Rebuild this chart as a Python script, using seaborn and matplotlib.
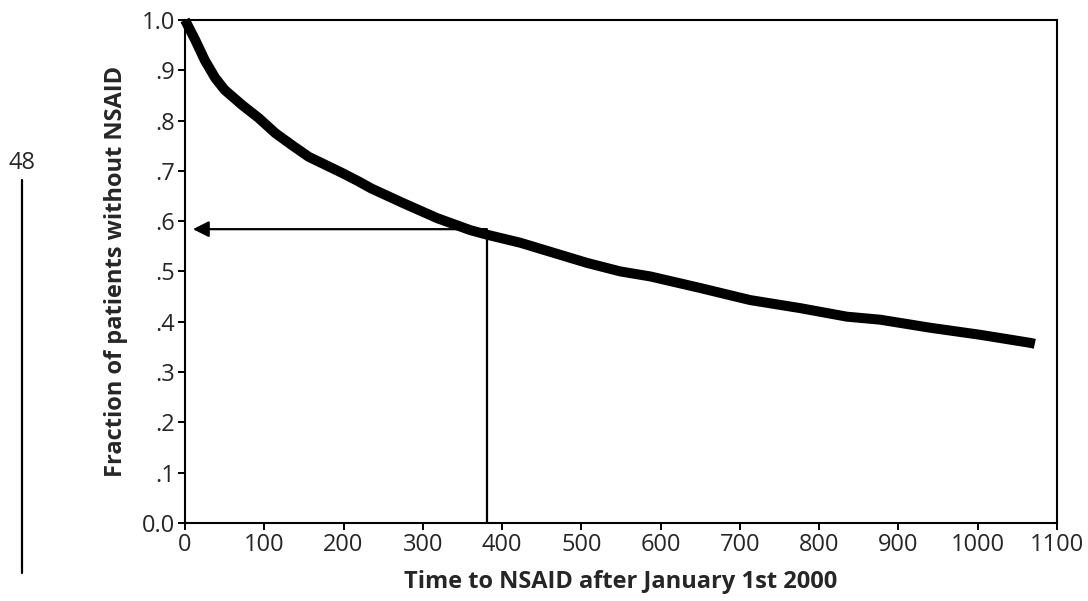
import pandas as pd
import seaborn as sns
import matplotlib.pyplot as plt
from matplotlib.lines import Line2D

# values
time_days = [0, 13, 25, 38, 50, 72, 93, 114, 135, 156, 177, 198, 219, 235,
             275, 318, 360, 381, 423, 465, 507, 549, 587, 650, 713, 776,
             835, 877, 940, 1003, 1066, 1072]
fraction_without = [1.0, 0.960, 0.920, 0.885, 0.861, 0.831, 0.805, 0.775,
                    0.751, 0.728, 0.712, 0.696, 0.679, 0.665, 0.636, 0.606,
                    0.582, 0.573, 0.557, 0.537, 0.517, 0.500, 0.490, 0.467,
                    0.443, 0.427, 0.410, 0.404, 0.388, 0.374, 0.358, 0.356]

marker_time = 381
marker_fraction = 0.584
marker_curve = 0.573

x_ticks = list(range(0, 1101, 100))
y_ticks = [0.0, 0.1, 0.2, 0.3, 0.4, 0.5, 0.6, 0.7, 0.8, 0.9, 1.0]
y_tick_labels = ["0.0", ".1", ".2", ".3", ".4", ".5", ".6", ".7", ".8", ".9", "1.0"]

df = pd.DataFrame({"time": time_days, "fraction": fraction_without})

sns.set_theme(style="ticks")
plt.rcParams["font.family"] = ["Open Sans", "DejaVu Sans"]

fig = plt.figure(figsize=(10.88, 6.01), dpi=100)
ax = fig.add_axes([0.170, 0.130, 0.8015, 0.8368])

# guide lines under the curve
ax.plot([marker_time, marker_time], [0, marker_curve], color="black", lw=1.6, zorder=1)
ax.annotate("", xy=(10, marker_fraction), xytext=(marker_time, marker_fraction),
            arrowprops=dict(arrowstyle="-|>", color="black", lw=1.6,
                            mutation_scale=24, shrinkA=0, shrinkB=0),
            zorder=1)

sns.lineplot(data=df, x="time", y="fraction", ax=ax, color="black",
             linewidth=7.2, solid_capstyle="butt", zorder=3, clip_on=False)

ax.set_xlim(0, 1100)
ax.set_ylim(0, 1.0)
ax.set_xticks(x_ticks)
ax.set_xticklabels([str(t) for t in x_ticks], fontsize=17)
ax.set_yticks(y_ticks)
ax.set_yticklabels(y_tick_labels, fontsize=17)
ax.tick_params(direction="out", length=5, width=1.4, color="black", pad=2)

for side in ["top", "right", "bottom", "left"]:
    ax.spines[side].set_visible(True)
    ax.spines[side].set_color("black")
    ax.spines[side].set_linewidth(1.5)

ax.set_xlabel("Time to NSAID after January 1st 2000", fontsize=17,
              fontweight="bold", labelpad=10)
ax.set_ylabel("Fraction of patients without NSAID", fontsize=17,
              fontweight="bold", labelpad=10)

# page number and margin rule
fig.text(22 / 1088, 1 - 163 / 601, "48", fontsize=17, ha="center", va="center")
fig.add_artist(Line2D([22 / 1088, 22 / 1088], [1 - 180 / 601, 1 - 573 / 601],
                      color="black", lw=1.6))

fig.savefig("out.png", dpi=100)
